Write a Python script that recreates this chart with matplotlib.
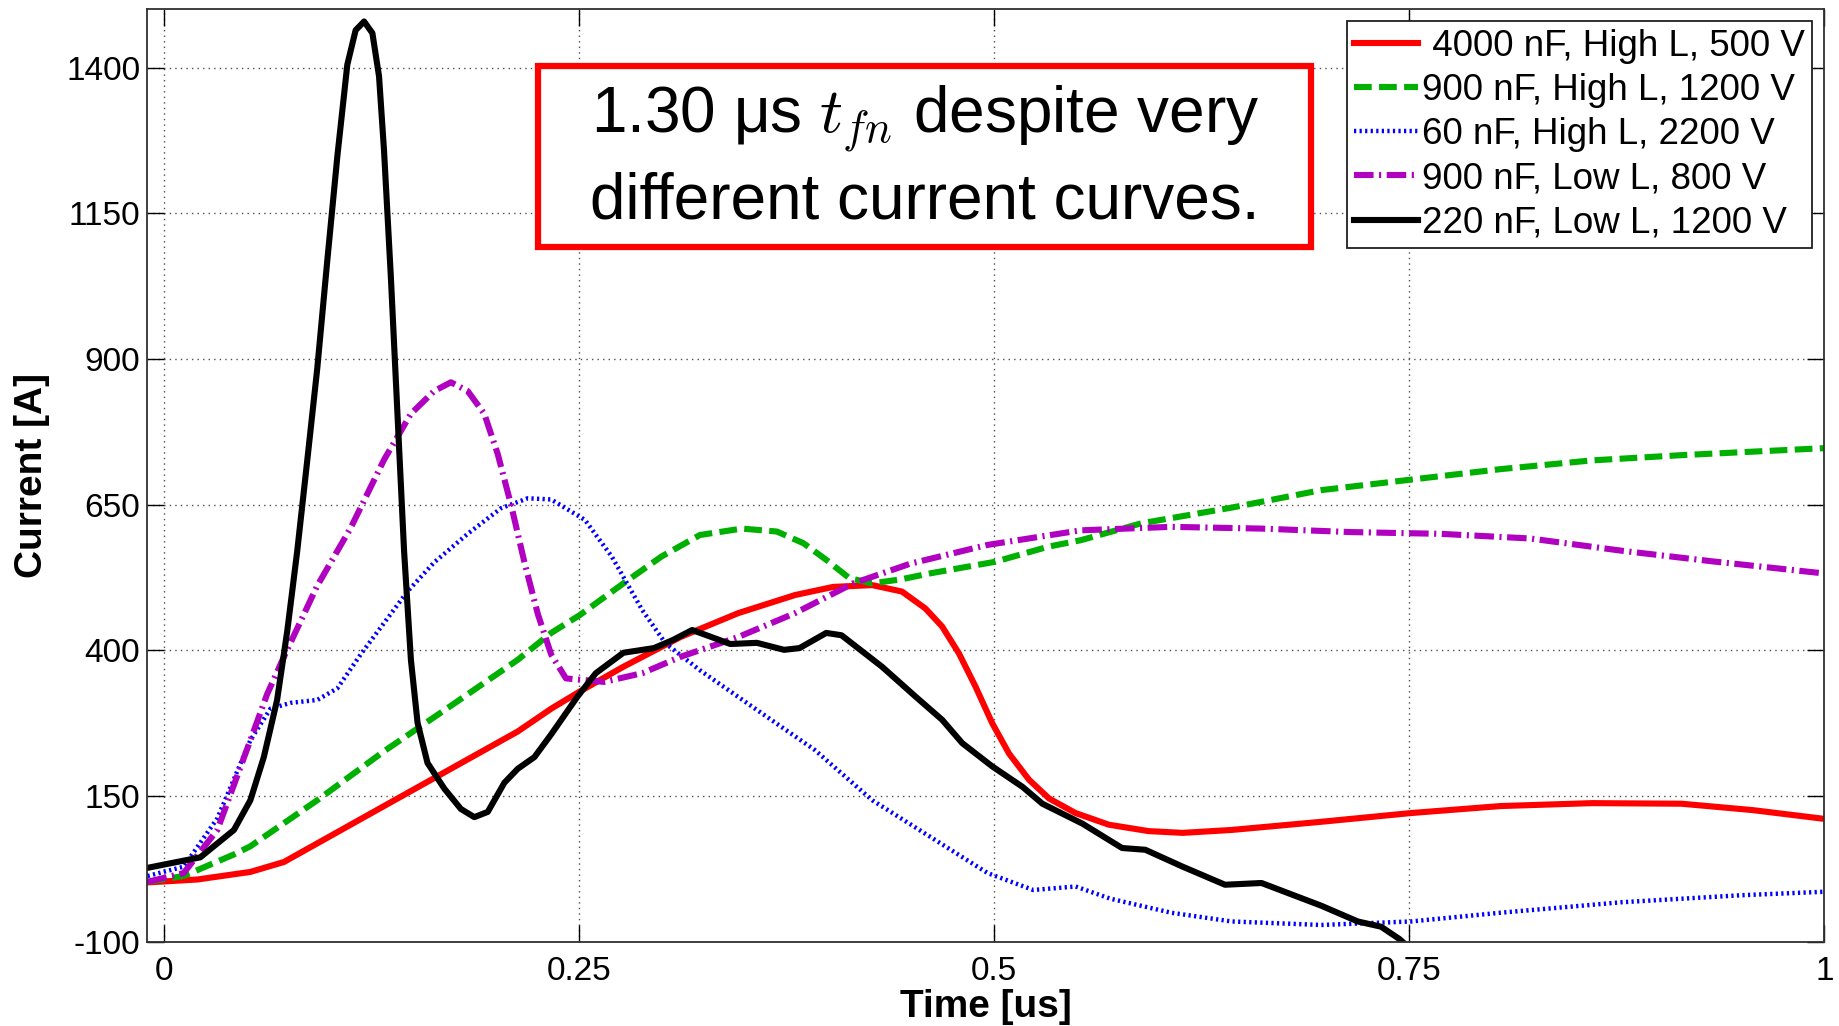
import matplotlib
matplotlib.use("Agg")
import matplotlib.pyplot as plt
from matplotlib.patches import Rectangle

plt.rcParams["font.family"] = ["Liberation Sans", "DejaVu Sans"]
plt.rcParams["mathtext.fontset"] = "cm"
plt.rcParams["axes.unicode_minus"] = False

# ---- data (time in us, current in A) ----
t_4000 = [-0.01, 0.02, 0.0519, 0.0721, 0.0922, 0.1324, 0.1727, 0.213, 0.2331, 0.25,
          0.2766, 0.311, 0.3458, 0.380, 0.403, 0.4265, 0.4444, 0.4585, 0.4686, 0.4787,
          0.4887, 0.4988, 0.5089, 0.521, 0.533, 0.549, 0.569, 0.593, 0.6135, 0.643,
          0.697, 0.751, 0.805, 0.860, 0.914, 0.957, 1.0]
i_4000 = [2, 7, 20, 37, 69, 133, 197, 261, 300, 329,
          372, 423, 464, 495, 509, 512, 501, 472, 441, 395,
          338, 275, 223, 178, 146, 121, 101, 90, 87, 92,
          106, 121, 133, 138, 137, 126, 111]

t_900h = [-0.01, 0.0117, 0.042, 0.0519, 0.0922, 0.1324, 0.1727, 0.213, 0.2331, 0.25,
          0.2766, 0.2995, 0.3227, 0.348, 0.369, 0.385, 0.399, 0.4127, 0.4265, 0.444,
          0.461, 0.5004, 0.5326, 0.552, 0.5885, 0.643, 0.697, 0.751, 0.805, 0.860,
          0.914, 1.0]
i_900h = [3, 13, 50, 64, 143, 227, 305, 384, 430, 460,
          515, 561, 598, 609, 604, 584, 555, 524, 515, 522,
          532, 552, 578, 589, 618, 645, 675, 693, 711, 726,
          735, 747]

t_60 = [-0.01, 0.0117, 0.032, 0.0519, 0.064, 0.0761, 0.0922, 0.1043, 0.1183, 0.1324,
        0.1465, 0.1626, 0.1828, 0.2029, 0.219, 0.2331, 0.2534, 0.2696, 0.288, 0.302,
        0.3227, 0.357, 0.392, 0.4265, 0.461, 0.496, 0.5235, 0.549, 0.570, 0.6066,
        0.643, 0.697, 0.751, 0.805, 0.878, 0.950, 1.0]
i_60 = [13, 29, 112, 246, 300, 310, 315, 335, 393, 447,
        501, 551, 600, 644, 661, 659, 624, 561, 469, 412,
        366, 298, 229, 143, 81, 18, -11, -5, -26, -50,
        -65, -71, -65, -50, -32, -20, -14]

t_900l = [-0.01, 0.0117, 0.032, 0.0519, 0.062, 0.0721, 0.0922, 0.1123, 0.1324, 0.1486,
          0.1626, 0.1727, 0.1828, 0.1928, 0.2009, 0.209, 0.217, 0.2251, 0.2331, 0.242,
          0.265, 0.288, 0.311, 0.3458, 0.380, 0.415, 0.4496, 0.496, 0.552, 0.6066,
          0.661, 0.715, 0.769, 0.823, 0.878, 0.932, 1.0]
i_900l = [3, 18, 92, 246, 325, 389, 511, 610, 727, 806,
          845, 860, 845, 806, 737, 649, 551, 462, 393, 352,
          346, 361, 389, 423, 464, 515, 549, 581, 606, 612,
          609, 603, 600, 592, 571, 553, 532]

t_220 = [-0.01, 0.0217, 0.042, 0.0519, 0.060, 0.068, 0.0741, 0.0801, 0.0862, 0.0922,
         0.0983, 0.1043, 0.1103, 0.1153, 0.1204, 0.1254, 0.1294, 0.1324, 0.1365, 0.1405,
         0.1445, 0.1486, 0.1526, 0.1586, 0.1687, 0.1787, 0.1868, 0.1949, 0.2049, 0.213,
         0.223, 0.2331, 0.249, 0.260, 0.2766, 0.295, 0.3065, 0.318, 0.3296, 0.341,
         0.357, 0.3734, 0.3827, 0.3988, 0.408, 0.4324, 0.4525, 0.4686, 0.4807, 0.4988,
         0.517, 0.529, 0.553, 0.577, 0.591, 0.6135, 0.639, 0.661, 0.697, 0.719,
         0.733, 0.744, 0.752]
i_220 = [27, 45, 92, 143, 217, 315, 433, 570, 727, 884,
         1071, 1248, 1405, 1464, 1479, 1459, 1385, 1258, 1042, 806,
         570, 384, 276, 207, 163, 128, 114, 123, 173, 197,
         217, 256, 321, 361, 396, 404, 418, 435, 423, 411,
         413, 401, 404, 430, 426, 372, 321, 281, 241, 201,
         166, 137, 103, 61, 58, 29, -2, 1, -38, -65,
         -74, -95, -115]

labels = [" 4000 nF, High L, 500 V", "900 nF, High L, 1200 V", "60 nF, High L, 2200 V",
          "900 nF, Low L, 800 V", "220 nF, Low L, 1200 V"]
x_ticks = [0, 0.25, 0.5, 0.75, 1]
x_ticklabels = ["0", "0.25", "0.5", "0.75", "1"]
y_ticks = [-100, 150, 400, 650, 900, 1150, 1400]

fig = plt.figure(figsize=(18.39, 10.26), dpi=100)
ax = fig.add_axes([0.080, 0.082, 0.912, 0.909])

ax.plot(t_4000, i_4000, color="#ff0000", lw=4.4, solid_joinstyle="round", label=labels[0])
ax.plot(t_900h, i_900h, color="#00b000", lw=4.4, dashes=(2.9, 1.2), label=labels[1])
ax.plot(t_60, i_60, color="#0000ff", lw=3.2, dashes=(0.5, 0.75), label=labels[2])
ax.plot(t_900l, i_900l, color="#b000c0", lw=4.4, dashes=(3.2, 0.9, 0.35, 0.9), label=labels[3])
ax.plot(t_220, i_220, color="#000000", lw=4.4, solid_joinstyle="round", label=labels[4])

ax.set_xlim(-0.0103, 1.0)
ax.set_ylim(-100, 1500)
ax.set_xticks(x_ticks)
ax.set_xticklabels(x_ticklabels)
ax.set_yticks(y_ticks)
ax.tick_params(direction="in", length=12, width=1, top=True, right=True,
               labelsize=24, colors="#000000")
ax.tick_params(axis="x", pad=10)
ax.tick_params(axis="y", pad=5)
ax.grid(True, color="#505050", lw=1.0, dashes=(1, 3))
for s in ax.spines.values():
    s.set_color("#303030")
    s.set_linewidth(1.3)

ax.set_xlabel("Time [us]", fontsize=28, fontweight="bold")
ax.set_ylabel("Current [A]", fontsize=28, fontweight="bold")
ax.xaxis.set_label_coords(0.5, -0.051)
ax.yaxis.set_label_coords(-0.058, 0.5)

leg = ax.legend(loc="upper right", bbox_to_anchor=(0.9928, 0.9871), borderaxespad=0,
                fontsize=26.5, handlelength=1.75, handletextpad=0.1, labelspacing=0.25,
                borderpad=0.2, fancybox=False, framealpha=1)
leg.get_frame().set_edgecolor("#202020")
leg.get_frame().set_linewidth(1.3)

# annotation box
fig.patches.append(Rectangle((0.2926, 0.7593), 0.4203, 0.1764, transform=fig.transFigure,
                             fc="white", ec="#ff0000", lw=4.5, zorder=5))
fig.text(0.5030, 0.8465, "1.30 μs $t_{fn}$ despite very\ndifferent current curves.",
         ha="center", va="center", fontsize=46, linespacing=1.36, zorder=6)

fig.savefig("out.png", dpi=100, facecolor="white")
